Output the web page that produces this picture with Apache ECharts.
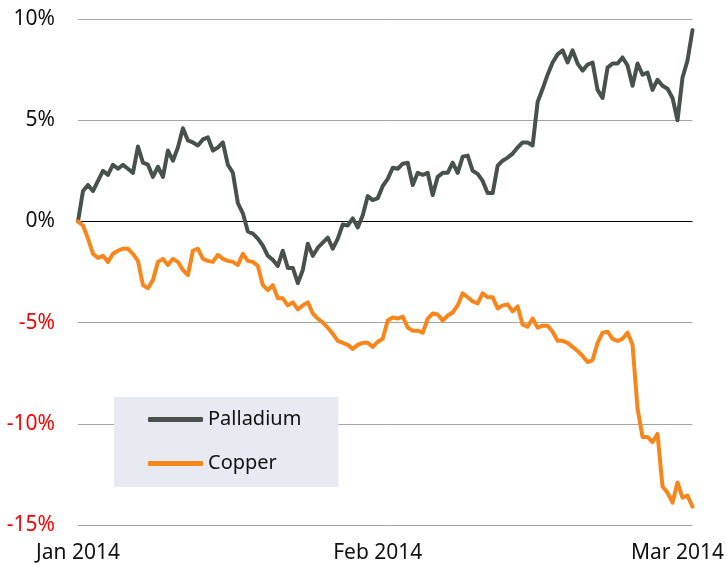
<!DOCTYPE html>
<html>
<head>
<meta charset="utf-8">
<script src="https://cdn.jsdelivr.net/npm/echarts@6/dist/echarts.min.js"></script>
<style>
  html, body { margin: 0; padding: 0; background: #fff; }
  #main { width: 727px; height: 567px; }
</style>
</head>
<body>
<div id="main"></div>
<script>
// 钯金 / 铜 涨跌幅 (%), 2014-01 ~ 2014-03
var palladium = [
  0, 1.5, 1.8, 1.5, 2.0, 2.5, 2.3, 2.8, 2.6, 2.8,
  2.6, 2.4, 3.7, 2.9, 2.8, 2.2, 2.7, 2.2, 3.5, 3.0,
  3.65, 4.6, 4.0, 3.9, 3.75, 4.05, 4.15, 3.5, 3.65, 3.9,
  2.8, 2.4, 0.9, 0.4, -0.5, -0.6, -0.85, -1.2, -1.7, -1.9,
  -2.2, -1.45, -2.3, -2.3, -3.05, -2.4, -1.1, -1.7, -1.3, -1.05,
  -0.8, -1.35, -0.85, -0.15, -0.2, 0.15, -0.3, 0.3, 1.25, 1.05,
  1.15, 1.75, 2.1, 2.65, 2.6, 2.85, 2.9, 1.8, 2.4, 2.3,
  2.4, 1.3, 2.2, 2.4, 2.4, 2.9, 2.4, 3.2, 3.25, 2.5,
  2.35, 2.0, 1.4, 1.4, 2.75, 3.0, 3.15, 3.35, 3.65, 3.9,
  3.9, 3.75, 5.9, 6.55, 7.25, 7.85, 8.25, 8.45, 7.85, 8.45,
  7.8, 7.45, 7.75, 7.85, 6.5, 6.1, 7.6, 7.8, 7.8, 8.1,
  7.7, 6.7, 7.8, 7.25, 7.35, 6.5, 7.0, 6.7, 6.55, 6.1,
  5.0, 7.1, 7.95, 9.45
];
var copper = [
  0, -0.2, -0.85, -1.6, -1.8, -1.7, -2.0, -1.6, -1.45, -1.35,
  -1.35, -1.6, -1.95, -3.15, -3.3, -2.9, -2.0, -1.85, -2.15, -1.85,
  -2.0, -2.4, -2.65, -1.45, -1.35, -1.85, -1.95, -2.0, -1.65, -1.85,
  -1.95, -2.0, -2.15, -1.6, -1.95, -2.0, -2.2, -3.15, -3.4, -3.15,
  -3.8, -3.8, -4.15, -4.0, -4.35, -4.15, -4.0, -4.55, -4.8, -5.0,
  -5.25, -5.55, -5.9, -6.0, -6.1, -6.3, -6.1, -6.0, -6.0, -6.2,
  -5.95, -5.8, -4.9, -4.75, -4.8, -4.7, -5.25, -5.4, -5.4, -5.5,
  -4.8, -4.55, -4.6, -4.9, -4.65, -4.5, -4.15, -3.55, -3.75, -3.95,
  -4.05, -3.55, -3.75, -3.75, -4.3, -4.15, -4.1, -4.45, -4.2, -5.1,
  -5.2, -4.8, -5.25, -5.15, -5.15, -5.45, -5.9, -5.9, -6.0, -6.2,
  -6.4, -6.65, -6.95, -6.85, -6.0, -5.5, -5.45, -5.8, -5.9, -5.8,
  -5.5, -6.1, -9.25, -10.65, -10.65, -10.9, -10.5, -13.1, -13.4, -13.9,
  -12.9, -13.65, -13.55, -14.1
];
var xTickIndex = [0, 60, 123];
var xTickText = ["Jan 2014", "Feb 2014", "Mar 2014"];
var yMin = -15, yMax = 10, yStep = 5;

var xCats = [];
for (var i = 0; i < palladium.length; i++) {
  xCats.push(String(i));
}

var FONT = "Noto Sans";
var myChart = echarts.init(document.getElementById("main"));

var option = {
  animation: false,
  backgroundColor: "#ffffff",
  grid: { left: 78, right: 34, top: 19, bottom: 42 },
  legend: {
    orient: "vertical",
    left: 114,
    top: 397,
    padding: [12, 37, 13, 34],
    backgroundColor: "#E8EAF1",
    itemWidth: 55,
    itemHeight: 5,
    itemGap: 23,
    icon: "roundRect",
    textStyle: { fontFamily: FONT, fontSize: 20, color: "#111", lineHeight: 21 },
    data: ["Palladium", "Copper"]
  },
  xAxis: {
    type: "category",
    boundaryGap: false,
    data: xCats,
    axisLine: { show: false, onZero: false },
    axisTick: { show: false },
    splitLine: { show: false },
    axisLabel: {
      margin: 18,
      fontFamily: FONT,
      fontSize: 21,
      color: "#111",
      interval: function (idx) {
        return xTickIndex.indexOf(idx) >= 0;
      },
      formatter: function (val, idx) {
        var k = xTickIndex.indexOf(Number(val));
        if (k < 0) return "";
        if (k === xTickIndex.length - 1) return "{last|" + xTickText[k] + "}";
        return xTickText[k];
      },
      rich: {
        last: { fontFamily: FONT, fontSize: 21, color: "#111", padding: [0, 30, 0, 0] }
      }
    }
  },
  yAxis: {
    type: "value",
    min: yMin,
    max: yMax,
    interval: yStep,
    axisLine: { show: false },
    axisTick: { show: false },
    splitLine: {
      lineStyle: {
        width: 1,
        color: ["#A6A6A6", "#A6A6A6", "#A6A6A6", "#000000", "#A6A6A6", "#A6A6A6"]
      }
    },
    axisLabel: {
      margin: 23,
      fontFamily: FONT,
      fontSize: 21,
      formatter: function (v) {
        return v < 0 ? "{neg|" + v + "%}" : "{pos|" + v + "%}";
      },
      rich: {
        neg: { fontFamily: FONT, fontSize: 21, color: "#FF0000" },
        pos: { fontFamily: FONT, fontSize: 21, color: "#111" }
      }
    }
  },
  series: [
    {
      name: "Palladium",
      type: "line",
      data: palladium,
      symbol: "none",
      itemStyle: { color: "#48524D" },
      lineStyle: { color: "#48524D", width: 4, join: "round", cap: "round" }
    },
    {
      name: "Copper",
      type: "line",
      data: copper,
      symbol: "none",
      itemStyle: { color: "#F7861C" },
      lineStyle: { color: "#F7861C", width: 4, join: "round", cap: "round" }
    }
  ]
};

myChart.setOption(option);
</script>
</body>
</html>
